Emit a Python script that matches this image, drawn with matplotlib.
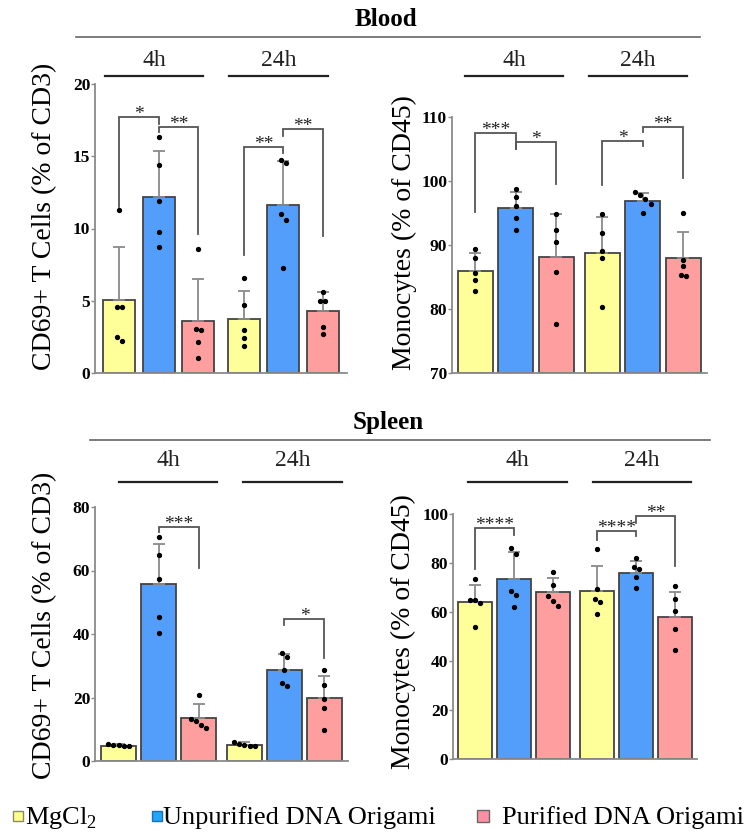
import numpy as np
import matplotlib
matplotlib.use("Agg")
import matplotlib.pyplot as plt
from matplotlib.patches import Rectangle
from matplotlib.lines import Line2D

plt.rcParams["font.family"] = ["Liberation Serif", "DejaVu Serif"]
plt.rcParams["mathtext.fontset"] = "custom"
plt.rcParams["mathtext.rm"] = "Liberation Serif"

W, H = 752, 832

# ── Data (bar order: MgCl2, Unpurified, Purified | 4h then 24h) ───────────────
TIMES = ["4h", "24h"]
LEGEND_LABELS = ["MgCl$_\\mathrm{2}$", "Unpurified DNA Origami", "Purified DNA Origami"]

blood_cd69_mean = [5.05, 12.2, 3.6, 3.75, 11.6, 4.3]
blood_cd69_sd = [3.65, 3.15, 2.9, 1.9, 3.1, 1.3]
blood_cd69_pts = [
    [11.3, 4.6, 4.6, 2.5, 2.2],
    [16.3, 14.4, 11.9, 9.75, 8.7],
    [8.57, 3.04, 2.95, 2.12, 1.04],
    [6.59, 4.72, 2.97, 2.4, 1.84],
    [14.75, 14.5, 11.0, 10.6, 7.26],
    [5.6, 5.0, 5.0, 3.2, 2.7],
]
blood_cd69_sig = [
    (0, 1, 17.7, 11.5, 17.2, "*"),
    (1, 2, 17.05, 16.7, 9.6, "**"),
    (3, 4, 15.67, 8.2, 15.2, "**"),
    (4, 5, 16.87, 16.4, 9.5, "**"),
]

blood_mono_mean = [85.95, 95.75, 88.2, 88.8, 96.9, 87.95]
blood_mono_sd = [2.8, 2.55, 6.7, 5.5, 1.2, 4.05]
blood_mono_pts = [
    [89.4, 87.9, 85.6, 84.6, 82.8],
    [98.8, 97.5, 96.1, 94.2, 92.3],
    [94.9, 92.3, 90.5, 85.8, 77.7],
    [94.8, 91.9, 89.0, 88.0, 80.3],
    [98.3, 97.8, 97.2, 96.4, 95.0],
    [94.95, 87.7, 86.7, 85.3, 85.2],
]
blood_mono_sig = [
    (0, 1, 107.5, 95.2, 105.05, "***"),
    (1, 2, 106.04, 105.05, 99.6, "*"),
    (3, 4, 106.25, 99.4, 105.4, "*"),
    (4, 5, 108.5, 107.66, 100.4, "**"),
]

spleen_cd69_mean = [4.85, 55.6, 13.7, 5.15, 28.8, 19.8]
spleen_cd69_sd = [0.4, 12.8, 4.1, 0.85, 4.8, 7.0]
spleen_cd69_pts = [
    [5.4, 5.1, 4.9, 4.6, 4.6],
    [70.4, 64.8, 57.2, 45.2, 40.2],
    [20.8, 13.2, 12.6, 11.2, 10.4],
    [6.1, 5.5, 5.05, 4.6, 4.6],
    [34.1, 32.8, 28.8, 24.6, 23.6],
    [28.6, 23.9, 19.4, 16.8, 9.9],
]
spleen_cd69_sig = [
    (1, 2, 73.7, 72.0, 60.7, "***"),
    (4, 5, 44.7, 42.7, 32.5, "*"),
]

spleen_mono_mean = [64.1, 73.5, 68.2, 68.6, 75.85, 58.1]
spleen_mono_sd = [7.0, 10.9, 5.6, 10.3, 5.05, 10.2]
spleen_mono_pts = [
    [73.5, 64.9, 64.9, 63.6, 54.0],
    [86.2, 83.8, 68.5, 67.0, 62.2],
    [76.5, 70.9, 66.6, 64.5, 62.5],
    [85.8, 69.3, 65.2, 64.1, 59.1],
    [82.0, 78.2, 77.5, 74.1, 70.0],
    [70.7, 65.2, 60.4, 52.9, 44.5],
]
spleen_mono_sig = [
    (0, 1, 94.3, 77.5, 91.5, "****"),
    (3, 4, 93.2, 89.5, 91.0, "****"),
    (4, 5, 99.3, 96.5, 78.6, "**"),
]

# ── Style ─────────────────────────────────────────────────────────────────────
BAR_COLORS = ["#FFFF99", "#529EFA", "#FF9E9E"] * 2
LEG_COLORS = ["#FFFF8C", "#22A6F7", "#FF90A4"]
LEG_EDGES = ["#8a8a6a", "#1a6fb8", "#666666"]
XPOS = np.array([0, 1, 2, 3.15, 4.15, 5.15])
AXIS_GRAY = "#8a8a8a"


def fx(px):
    return px / W


def fy(py):
    return 1 - py / H


def jitter(values, span):
    """Spread points that sit at almost the same height."""
    vals = np.asarray(values, float)
    order = np.argsort(-vals)
    offs = np.zeros(len(vals))
    cluster = [order[0]]
    clusters = []
    for k in order[1:]:
        if abs(vals[cluster[-1]] - vals[k]) < 0.025 * span:
            cluster.append(k)
        else:
            clusters.append(cluster)
            cluster = [k]
    clusters.append(cluster)
    for c in clusters:
        n = len(c)
        if n > 1:
            offs[c] = np.linspace(-0.065 * (n - 1), 0.065 * (n - 1), n)
    return offs


def panel(box, ylim, yticks, means, sds, pts, sigs, width, xlim):
    l, r, t, b = box
    ax = fig.add_axes([fx(l), fy(b), fx(r - l), (b - t) / H])
    lo, hi = ylim
    means = np.asarray(means)
    ax.bar(XPOS, means - lo, bottom=lo, width=width, color=BAR_COLORS,
           edgecolor="#444444", linewidth=1.3, zorder=2)
    ax.errorbar(XPOS, means, yerr=[np.zeros(6), sds], fmt="none",
                ecolor=AXIS_GRAY, elinewidth=1.3, capsize=4.6,
                capthick=1.3, zorder=3)
    for x, p in zip(XPOS, pts):
        ax.plot(x + jitter(p, hi - lo), p, "o", color="black",
                markersize=2.8, zorder=4, clip_on=False)
    for i, j, top, lb, rb, txt in sigs:
        xi, xj = XPOS[i], XPOS[j]
        ax.plot([xi, xi, xj, xj], [lb, top, top, rb], color="#555555",
                linewidth=1.3, zorder=5, solid_joinstyle="miter")
        ax.annotate(txt, ((xi + xj) / 2, top), xytext=(0, -1.5),
                    textcoords="offset points", ha="center", va="baseline",
                    fontsize=14, color="#222222")
    ax.set_xlim(*xlim)
    ax.set_ylim(lo, hi)
    ax.set_yticks(yticks)
    ax.set_yticklabels([str(v) for v in yticks], fontweight="bold",
                       fontsize=12.5)
    ax.set_xticks([])
    for s in ["top", "right"]:
        ax.spines[s].set_visible(False)
    for s in ["left", "bottom"]:
        ax.spines[s].set_color(AXIS_GRAY)
        ax.spines[s].set_linewidth(1.3)
    ax.tick_params(axis="y", length=3, width=1, color=AXIS_GRAY, pad=0.5)
    ax.patch.set_alpha(0)
    return ax


def headers(line_y, text_y, spans):
    for (x0, x1), name in zip(spans, TIMES):
        fig.add_artist(Line2D([fx(x0), fx(x1)], [fy(line_y)] * 2,
                              color="#222222", linewidth=1.6))
        fig.text(fx((x0 + x1) / 2), fy(text_y), name, ha="center",
                 va="center", fontsize=17, color="#222222")


def section(title, cx, cy, line_y, x0, x1):
    fig.text(fx(cx), fy(cy), title, ha="center", va="center", fontsize=18,
             fontweight="bold")
    fig.add_artist(Line2D([fx(x0), fx(x1)], [fy(line_y)] * 2,
                          color="#666666", linewidth=1.2))


fig = plt.figure(figsize=(W / 100, H / 100), dpi=100)

panel((95, 347, 84, 373), (0, 20), [0, 5, 10, 15, 20],
      blood_cd69_mean, blood_cd69_sd, blood_cd69_pts, blood_cd69_sig,
      0.81, (-0.61, 5.76))
panel((452, 707, 117, 373), (70, 110), [70, 80, 90, 100, 110],
      blood_mono_mean, blood_mono_sd, blood_mono_pts, blood_mono_sig,
      0.87, (-0.58, 5.74))
panel((95, 348, 507, 761), (0, 80), [0, 20, 40, 60, 80],
      spleen_cd69_mean, spleen_cd69_sd, spleen_cd69_pts, spleen_cd69_sig,
      0.87, (-0.59, 5.74))
panel((453, 697, 514, 759), (0, 100), [0, 20, 40, 60, 80, 100],
      spleen_mono_mean, spleen_mono_sd, spleen_mono_pts, spleen_mono_sig,
      0.87, (-0.57, 5.72))

section("Blood", 386, 19, 37, 76, 700)
section("Spleen", 388, 423, 440, 90, 710)

headers(76, 60, [(105, 203), (229, 328)])
headers(76, 60, [(465, 563), (589, 687)])
headers(482, 461, [(119, 217), (243, 342)])
headers(482, 461, [(468, 567), (593, 691)])

ylab_cd69 = "CD69+ T Cells (% of CD3)"
ylab_mono = "Monocytes (% of CD45)"
fig.text(fx(45), fy(216), ylab_cd69, rotation=90, ha="center", va="center",
         fontsize=20)
fig.text(fx(404), fy(233), ylab_mono, rotation=90, ha="center", va="center",
         fontsize=20)
fig.text(fx(45), fy(625), ylab_cd69, rotation=90, ha="center", va="center",
         fontsize=20)
fig.text(fx(403), fy(632), ylab_mono, rotation=90, ha="center", va="center",
         fontsize=20)

# ── Legend ────────────────────────────────────────────────────────────────────
leg_boxes = [(13, 811, 10), (152, 811, 10), (477, 810, 12)]
leg_text_x = [25, 163, 502]
for (x0, y0, s), tx, lab, c, ec in zip(leg_boxes, leg_text_x, LEGEND_LABELS,
                                       LEG_COLORS, LEG_EDGES):
    fig.add_artist(Rectangle((fx(x0), fy(y0 + s)), s / W, s / H,
                             facecolor=c, edgecolor=ec, linewidth=1))
    fig.text(fx(tx), fy(824), lab, ha="left", va="baseline", fontsize=19)

fig.savefig("out.png", dpi=100)
